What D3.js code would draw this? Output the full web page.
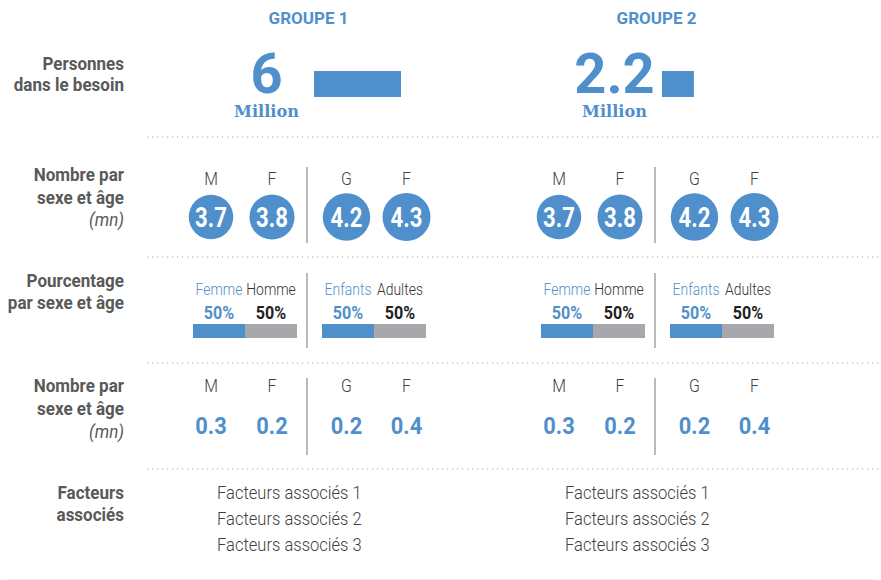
<!DOCTYPE html>
<html>
<head>
<meta charset="utf-8">
<script src="https://cdn.jsdelivr.net/npm/d3@7"></script>
<style>
  body { margin: 0; background: #fff; }
  text { font-family: Roboto, "Noto Sans", sans-serif; }
</style>
</head>
<body>
<div id="chart"></div>
<script>

// data
var groups = ["GROUPE 1", "GROUPE 2"];
var peopleInNeed = [6, 2.2];
var peopleUnit = "Million";

var rowLabels = [
  ["Personnes", "dans le besoin"],
  ["Nombre par", "sexe et âge", "(mn)"],
  ["Pourcentage", "par sexe et âge"],
  ["Nombre par", "sexe et âge", "(mn)"],
  ["Facteurs", "associés"]
];

var sexAgeKeys = ["M", "F", "G", "F"];
var countsA = [[3.7, 3.8, 4.2, 4.3], [3.7, 3.8, 4.2, 4.3]];
var countsB = [[0.3, 0.2, 0.2, 0.4], [0.3, 0.2, 0.2, 0.4]];

var pctLabels = [["Femme", "Homme"], ["Enfants", "Adultes"]];
var pctValues = [[[50, 50], [50, 50]], [[50, 50], [50, 50]]];

var factors = [
  ["Facteurs associés 1", "Facteurs associés 2", "Facteurs associés 3"],
  ["Facteurs associés 1", "Facteurs associés 2", "Facteurs associés 3"]
];

var width = 881, height = 580;
var blue = "#4f8fcc", grey = "#a7a8ab", labelGrey = "#595959", dark = "#404040";

var svg = d3.select("#chart").append("svg")
  .attr("width", width)
  .attr("height", height);

// one column block per group
var groupX = d3.scaleOrdinal().domain(groups).range([0, 348]);

// four slots inside a group, split into two pairs
var slotX = d3.scaleOrdinal().domain([0, 1, 2, 3]).range([211, 272, 346.5, 406.5]);
var pairX = d3.scaleOrdinal().domain([0, 1]).range([193, 322]);
var sepX = 307;

var needW = d3.scaleLinear().domain([0, 6]).range([0, 87]);
var radius = d3.scaleSqrt().domain([0, 4.3]).range([0, 24]);
var pctW = d3.scaleLinear().domain([0, 100]).range([0, 104]);

//Narrow text: no condensed face installed, so squeeze Roboto sideways
function ctext(sel, x, y, sx) {
  return sel.append("text")
    .attr("transform", "translate(" + x + "," + y + ") scale(" + sx + ",1)");
}

//Row labels on the left
var rowTop = [70, 181, 287, 392, 499];
var rowStep = [21, 22.5, 21.5, 23, 22];
rowLabels.forEach(function(lines, r) {
  lines.forEach(function(line, i) {
    var italic = line.charAt(0) === "(";
    ctext(svg, 124, rowTop[r] + i * rowStep[r], 0.92)
      .attr("text-anchor", "end")
      .style("font-size", "18.5px")
      .style("font-weight", italic ? 400 : 700)
      .style("font-style", italic ? "italic" : "normal")
      .style("fill", labelGrey)
      .text(line);
  });
});

//Dotted separators between rows
[137, 257, 363, 469].forEach(function(y) {
  svg.append("line")
    .attr("x1", 147).attr("x2", width)
    .attr("y1", y).attr("y2", y)
    .style("stroke", "#aaa")
    .style("stroke-width", 1)
    .style("stroke-dasharray", "1.2,3.8");
});

svg.append("line")
  .attr("x1", 7).attr("x2", 874)
  .attr("y1", 579.5).attr("y2", 579.5)
  .style("stroke", "#f0f0f0");

groups.forEach(function(name, gi) {

  var g = svg.append("g").attr("transform", "translate(" + groupX(name) + ",0)");

  g.append("text")
    .attr("x", 308.5).attr("y", 24)
    .attr("text-anchor", "middle")
    .style("font-size", "17px").style("font-weight", 700)
    .style("fill", blue)
    .text(name);

  //People in need
  g.append("text")
    .attr("x", 266.5).attr("y", 92.5)
    .attr("text-anchor", "middle")
    .style("font-size", "56px").style("font-weight", 700)
    .style("fill", blue)
    .text(peopleInNeed[gi]);

  ctext(g, 266.5, 116.5, 0.95)
    .attr("text-anchor", "middle")
    .style("font-family", "'DejaVu Serif', serif")
    .style("font-size", "17px").style("font-weight", 700)
    .style("fill", blue)
    .text(peopleUnit);

  g.append("rect")
    .attr("x", 314).attr("y", 71)
    .attr("width", needW(peopleInNeed[gi]))
    .attr("height", 26)
    .style("fill", blue);

  //Vertical separators
  [[167, 243], [273, 348], [378, 455]].forEach(function(s) {
    g.append("line")
      .attr("x1", sepX).attr("x2", sepX)
      .attr("y1", s[0]).attr("y2", s[1])
      .style("stroke", "#8c8c8c").style("stroke-width", 1.2);
  });

  //Counts in circles
  sexAgeKeys.forEach(function(k, i) {
    ctext(g, slotX(i), 184.5, 0.88)
      .attr("text-anchor", "middle")
      .style("font-size", "18px").style("font-weight", 300)
      .style("fill", dark)
      .text(k);
  });

  g.selectAll("circle").data(countsA[gi]).enter().append("circle")
    .attr("cx", function(d, i) { return slotX(i); })
    .attr("cy", 217)
    .attr("r", function(d) { return radius(d); })
    .style("fill", blue);

  countsA[gi].forEach(function(v, i) {
    ctext(g, slotX(i), 227, 0.82)
      .attr("text-anchor", "middle")
      .style("font-size", "27px").style("font-weight", 700)
      .style("fill", "#fff")
      .text(d3.format(".1f")(v));
  });

  //Percentage bars
  pctLabels.forEach(function(pair, p) {
    var x0 = pairX(p);
    var vals = pctValues[gi][p];
    var starts = [0, vals[0]];
    pair.forEach(function(lab, k) {
      var cx = x0 + pctW(starts[k]) + pctW(vals[k]) / 2;
      ctext(g, cx, 295, 0.82)
        .attr("text-anchor", "middle")
        .style("font-size", "17px").style("font-weight", 300)
        .style("fill", k === 0 ? blue : "#333")
        .text(lab);
      ctext(g, cx, 318.5, 0.87)
        .attr("text-anchor", "middle")
        .style("font-size", "18.5px").style("font-weight", 700)
        .style("fill", k === 0 ? blue : "#222")
        .text(vals[k] + "%");
      g.append("rect")
        .attr("x", x0 + pctW(starts[k])).attr("y", 324)
        .attr("width", pctW(vals[k])).attr("height", 14)
        .style("fill", k === 0 ? blue : grey);
    });
  });

  //Counts as plain numbers
  sexAgeKeys.forEach(function(k, i) {
    ctext(g, slotX(i), 392, 0.88)
      .attr("text-anchor", "middle")
      .style("font-size", "18px").style("font-weight", 300)
      .style("fill", dark)
      .text(k);
  });

  countsB[gi].forEach(function(v, i) {
    ctext(g, slotX(i), 434, 0.93)
      .attr("text-anchor", "middle")
      .style("font-size", "23.5px").style("font-weight", 700)
      .style("fill", blue)
      .text(d3.format(".1f")(v));
  });

  //Associated factors
  factors[gi].forEach(function(f, i) {
    ctext(g, 217, 499 + i * 26, 0.92)
      .style("font-size", "18px").style("font-weight", 300)
      .style("fill", dark)
      .text(f);
  });

});

</script>
</body>
</html>
